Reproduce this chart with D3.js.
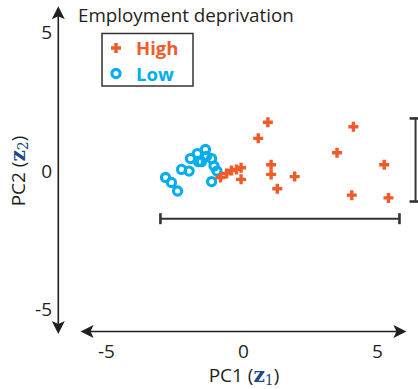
<!DOCTYPE html>
<html>
<head>
<meta charset="utf-8">
<script src="https://cdn.jsdelivr.net/npm/d3@7"></script>
<style>
  html, body { margin: 0; padding: 0; background: #fff; }
  svg { display: block; }
  text { font-family: "Open Sans", Lato, sans-serif; fill: #231f20; }
</style>
</head>
<body>
<svg id="chart" width="418" height="389"></svg>
<script>
// PCA scores, first two components
const highX = [0.91, 0.55, 4.10, 3.49, 5.25, -0.09, 1.03, 1.03, 1.91, -0.09, 1.26, 4.04, 5.41, -0.86, -0.63, -0.45, -0.26];
const highY = [1.74, 1.16, 1.58, 0.64, 0.21, 0.10, 0.21, -0.14, -0.22, -0.32, -0.66, -0.89, -0.99, -0.25, -0.11, 0.00, 0.04];
const lowX = [-2.91, -2.69, -2.46, -2.31, -2.03, -1.98, -1.72, -1.42, -1.38, -1.57, -1.19, -1.10, -0.99, -1.19, -1.68];
const lowY = [-0.25, -0.43, -0.74, 0.04, -0.02, 0.43, 0.61, 0.76, 0.51, 0.32, 0.43, 0.16, -0.02, -0.40, 0.32];

const xTicks = [-5, 0, 5];
const yTicks = [5, 0, -5];

// spread brackets: horizontal extent (at y) and vertical extent (at x)
const spreadX = [-3.10, 5.82];
const spreadXAt = -1.74;
const spreadY = [1.88, -1.12];
const spreadYAt = 6.42;

const legendLabels = ["High", "Low"];
const orange = "#f15a29";
const blue = "#00aeef";
const ink = "#231f20";

const svg = d3.select("#chart");
const x = d3.scaleLinear().domain([-5, 5]).range([109.5, 377.5]);
const y = d3.scaleLinear().domain([-5, 5]).range([309, 32]);

// arrowhead drawn as a notched triangle pointing along +x, then rotated
function arrowHead(g, px, py, angle) {
  g.append("path")
    .attr("d", "M0,0 L-13,-6.5 L-10,0 L-13,6.5 Z")
    .attr("fill", ink)
    .attr("transform", `translate(${px},${py}) rotate(${angle})`);
}

const axes = svg.append("g");
// x axis (double-headed)
const xa0 = x(-6.08), xa1 = x(6.08), xay = 331.5;
axes.append("line").attr("x1", xa0 + 4).attr("x2", xa1 - 4).attr("y1", xay).attr("y2", xay)
  .attr("stroke", ink).attr("stroke-width", 1.6);
arrowHead(axes, xa1, xay, 0);
arrowHead(axes, xa0, xay, 180);
// y axis (double-headed)
const ya0 = y(5.93), ya1 = y(-5.9), yax = 58.3;
axes.append("line").attr("x1", yax).attr("x2", yax).attr("y1", ya0 + 4).attr("y2", ya1 - 4)
  .attr("stroke", ink).attr("stroke-width", 1.6);
arrowHead(axes, yax, ya0, -90);
arrowHead(axes, yax, ya1, 90);

// tick labels
axes.selectAll(".xt").data(xTicks).join("text")
  .attr("x", d => x(d) + (d < 0 ? -3 : 0)).attr("y", 357.5)
  .attr("text-anchor", "middle").attr("font-size", 19).text(d => d);
axes.selectAll(".yt").data(yTicks).join("text")
  .attr("x", 52).attr("y", d => y(d) + 7)
  .attr("text-anchor", "end").attr("font-size", 19).text(d => d);

// axis titles
const xt = axes.append("text").attr("x", 244).attr("y", 382).attr("text-anchor", "middle").attr("font-size", 19);
xt.append("tspan").text("PC1 (");
xt.append("tspan").text("z").attr("font-family", "'DejaVu Serif', serif").attr("font-weight", "bold").style("fill", "#1c4a82").attr("font-size", 20);
xt.append("tspan").text("1").attr("font-family", "'DejaVu Serif', serif").style("fill", "#1c4a82").attr("font-size", 14).attr("dy", 3);
xt.append("tspan").text(")").attr("dy", -3);

const yt = axes.append("text").attr("transform", "translate(25,171) rotate(-90)").attr("text-anchor", "middle").attr("font-size", 19);
yt.append("tspan").text("PC2 (");
yt.append("tspan").text("z").attr("font-family", "'DejaVu Serif', serif").attr("font-weight", "bold").style("fill", "#1c4a82").attr("font-size", 20);
yt.append("tspan").text("2").attr("font-family", "'DejaVu Serif', serif").style("fill", "#1c4a82").attr("font-size", 14).attr("dy", 3);
yt.append("tspan").text(")").attr("dy", -3);

// brackets
const br = svg.append("g").attr("stroke", "#333").attr("stroke-width", 2);
br.append("line").attr("x1", x(spreadX[0])).attr("x2", x(spreadX[1])).attr("y1", y(spreadXAt)).attr("y2", y(spreadXAt));
spreadX.forEach(v => br.append("line").attr("x1", x(v)).attr("x2", x(v)).attr("y1", y(spreadXAt) - 5.5).attr("y2", y(spreadXAt) + 5.5).attr("stroke-width", 2.6));
br.append("line").attr("x1", x(spreadYAt)).attr("x2", x(spreadYAt)).attr("y1", y(spreadY[0])).attr("y2", y(spreadY[1]));
spreadY.forEach(v => br.append("line").attr("x1", x(spreadYAt) - 6).attr("x2", x(spreadYAt) + 6).attr("y1", y(v)).attr("y2", y(v)).attr("stroke-width", 2.6));

// markers
const plusPath = "M-5,0 L5,0 M0,-5 L0,5";
function drawPlus(g, cx, cy) {
  g.append("path").attr("d", plusPath).attr("transform", `translate(${cx},${cy})`)
    .attr("stroke", orange).attr("stroke-width", 3.4).attr("fill", "none");
}
function drawCircle(g, cx, cy) {
  g.append("circle").attr("cx", cx).attr("cy", cy).attr("r", 4.1)
    .attr("stroke", blue).attr("stroke-width", 3.1).attr("fill", "none");
}

const lowG = svg.append("g");
lowX.forEach((v, i) => drawCircle(lowG, x(v), y(lowY[i])));
const highG = svg.append("g");
highX.forEach((v, i) => drawPlus(highG, x(v), y(highY[i])));

// legend
svg.append("text").attr("x", 78).attr("y", 22).attr("font-size", 18.8).text("Employment deprivation");
const lg = svg.append("g");
lg.append("rect").attr("x", 102).attr("y", 33.5).attr("width", 91).attr("height", 52.5)
  .attr("fill", "#fff").attr("stroke", "#333").attr("stroke-width", 1.5);
drawPlus(lg, 116, 48);
drawCircle(lg, 116, 73.5);
lg.append("text").attr("x", 136).attr("y", 54.5).attr("font-size", 18.5).attr("font-weight", "bold").style("fill", orange).text(legendLabels[0]);
lg.append("text").attr("x", 136).attr("y", 80.5).attr("font-size", 18.5).attr("font-weight", "bold").style("fill", blue).text(legendLabels[1]);
</script>
</body>
</html>
